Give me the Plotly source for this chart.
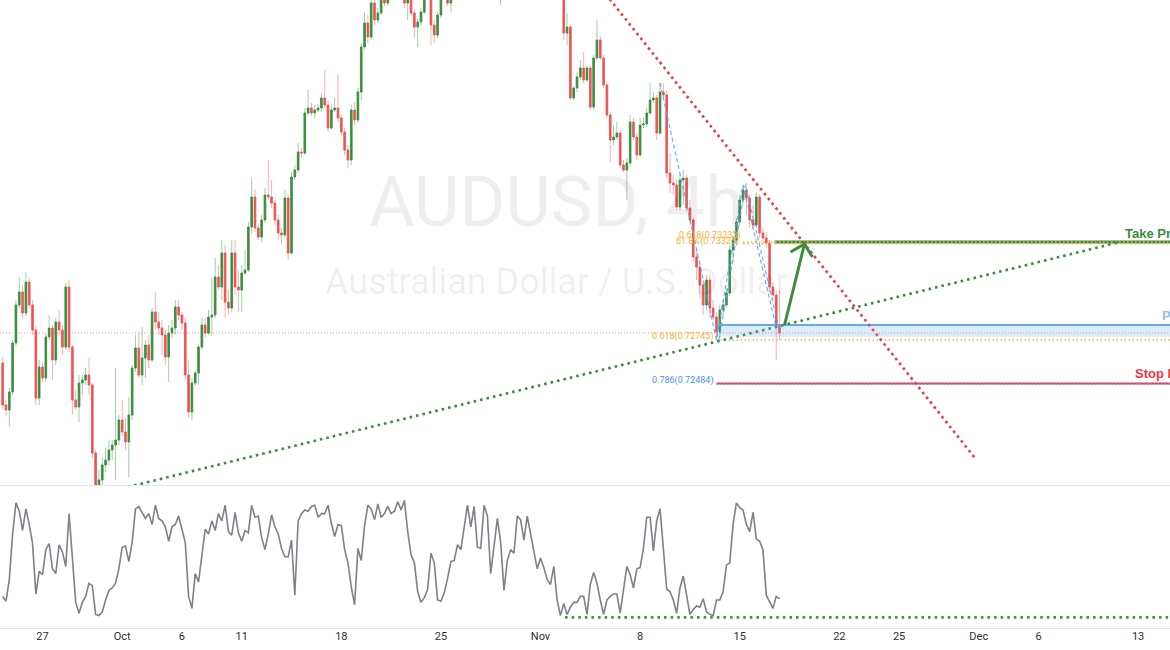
import plotly.graph_objects as go
import pandas as pd

# ---------------- data ----------------
bar_start = "2021-09-23"
n_bars = 235
bar_days = pd.bdate_range(bar_start, periods=40)
bar_time = [d + pd.Timedelta(hours=4 * k) for d in bar_days for k in range(6)][:n_bars]

open_ = [
    0.72607, 0.72355, 0.72325, 0.72433, 0.72727, 0.72955, 0.73033, 0.72907, 0.73093, 0.72955,
    0.72805, 0.72397, 0.72583, 0.72517, 0.72763, 0.72817, 0.72625, 0.72853, 0.72805, 0.72703,
    0.73063, 0.72703, 0.72385, 0.72343, 0.72487, 0.72505, 0.72535, 0.72475, 0.72067, 0.71875,
    0.71905, 0.71995, 0.72025, 0.72085, 0.72115, 0.72145, 0.72265, 0.72193, 0.72133, 0.72295,
    0.72577, 0.72697, 0.72535, 0.72637, 0.72715, 0.72625, 0.72913, 0.72853, 0.72817, 0.72775,
    0.72643, 0.72787, 0.72817, 0.72943, 0.72895, 0.72847, 0.72535, 0.72313, 0.72487, 0.72547,
    0.72703, 0.72835, 0.72787, 0.72883, 0.72895, 0.73123, 0.73063, 0.73267, 0.72973, 0.72937,
    0.73267, 0.73063, 0.73045, 0.73147, 0.73165, 0.73423, 0.73603, 0.73417, 0.73363, 0.73465,
    0.73615, 0.73603, 0.73567, 0.73465, 0.73387, 0.73375, 0.73597, 0.73267, 0.73723, 0.73765,
    0.73873, 0.73867, 0.74107, 0.74137, 0.74107, 0.74125, 0.74137, 0.74197, 0.74155, 0.74017,
    0.74125, 0.74137, 0.74077, 0.73993, 0.73885, 0.73825, 0.74125, 0.74065, 0.74233, 0.74503,
    0.74647, 0.74563, 0.74767, 0.74665, 0.74707, 0.74785, 0.74767, 0.74920, 0.75050, 0.75140,
    0.74980, 0.74845, 0.74767, 0.74815, 0.74707, 0.74623, 0.74653, 0.74713, 0.74815, 0.74803,
    0.74635, 0.74575, 0.74695, 0.74815, 0.74920, 0.74767, 0.74833, 0.74960, 0.75030, 0.74920,
    0.75050, 0.75120, 0.75060, 0.74960, 0.74900, 0.75080, 0.75270, 0.75400, 0.75320, 0.75150,
    0.74970, 0.75030, 0.75120, 0.75180, 0.75050, 0.75090, 0.75150, 0.75070, 0.75120, 0.75180,
    0.75140, 0.75210, 0.75130, 0.75160, 0.75240, 0.75190, 0.75120, 0.75150, 0.75060, 0.75090,
    0.74587, 0.74623, 0.74197, 0.74257, 0.74323, 0.74377, 0.74305, 0.74377, 0.74143, 0.74437,
    0.74545, 0.74437, 0.74275, 0.74095, 0.73945, 0.73963, 0.73987, 0.73795, 0.73765, 0.73807,
    0.74053, 0.73963, 0.73855, 0.74035, 0.74041, 0.74107, 0.74185, 0.74197, 0.73987, 0.74233,
    0.74215, 0.73747, 0.73687, 0.73675, 0.73543, 0.73705, 0.73717, 0.73537, 0.73465, 0.73243,
    0.73183, 0.73075, 0.72955, 0.73105, 0.72937, 0.72883, 0.72793, 0.72925, 0.72955, 0.73027,
    0.73285, 0.73345, 0.73453, 0.73585, 0.73645, 0.73597, 0.73465, 0.73435, 0.73603, 0.73387,
    0.73357, 0.73327, 0.73063, 0.73015, 0.72835,
]
high = [
    0.72643, 0.72385, 0.72457, 0.72745, 0.72985, 0.73123, 0.73075, 0.73153, 0.73117, 0.72985,
    0.72835, 0.72625, 0.72607, 0.72781, 0.72895, 0.72835, 0.72877, 0.72925, 0.72835, 0.73087,
    0.73105, 0.72715, 0.72445, 0.72535, 0.72535, 0.72577, 0.72637, 0.72487, 0.72085, 0.71965,
    0.72037, 0.72097, 0.72145, 0.72145, 0.72577, 0.72295, 0.72385, 0.72277, 0.72403, 0.72595,
    0.72775, 0.72787, 0.72823, 0.72745, 0.72775, 0.72937, 0.73033, 0.72913, 0.72865, 0.72805,
    0.72835, 0.72865, 0.72985, 0.72985, 0.72913, 0.72877, 0.72625, 0.72517, 0.72565, 0.72715,
    0.72877, 0.72877, 0.72925, 0.73117, 0.73237, 0.73195, 0.73345, 0.73315, 0.73045, 0.73345,
    0.73345, 0.73165, 0.73195, 0.73285, 0.73453, 0.73717, 0.73645, 0.73435, 0.73495, 0.73657,
    0.73825, 0.73705, 0.73585, 0.73495, 0.73417, 0.73645, 0.73615, 0.73753, 0.73795, 0.73927,
    0.73897, 0.74137, 0.74245, 0.74167, 0.74155, 0.74161, 0.74227, 0.74365, 0.74185, 0.74155,
    0.74197, 0.74341, 0.74095, 0.74017, 0.73915, 0.74155, 0.74173, 0.74257, 0.74527, 0.74713,
    0.74695, 0.74815, 0.74797, 0.74737, 0.74833, 0.74845, 0.74970, 0.75100, 0.75200, 0.75180,
    0.75020, 0.74875, 0.74833, 0.74833, 0.74725, 0.74677, 0.74737, 0.74857, 0.74875, 0.74845,
    0.74665, 0.74713, 0.74845, 0.74960, 0.74940, 0.74857, 0.75000, 0.75080, 0.75060, 0.75100,
    0.75150, 0.75180, 0.75090, 0.75000, 0.75120, 0.75320, 0.75560, 0.75460, 0.75350, 0.75180,
    0.75080, 0.75170, 0.75260, 0.75210, 0.75120, 0.75200, 0.75180, 0.75160, 0.75240, 0.75210,
    0.75250, 0.75240, 0.75200, 0.75300, 0.75280, 0.75220, 0.75180, 0.75180, 0.75120, 0.75120,
    0.74707, 0.74635, 0.74269, 0.74353, 0.74425, 0.74473, 0.74389, 0.74395, 0.74455, 0.74665,
    0.74569, 0.74455, 0.74293, 0.74113, 0.74035, 0.74053, 0.74005, 0.73825, 0.73837, 0.74095,
    0.74077, 0.73987, 0.74077, 0.74077, 0.74137, 0.74287, 0.74233, 0.74215, 0.74287, 0.74287,
    0.74245, 0.73867, 0.73735, 0.73705, 0.73735, 0.73765, 0.73735, 0.73585, 0.73477, 0.73285,
    0.73213, 0.73105, 0.73135, 0.73135, 0.72985, 0.72913, 0.72955, 0.72985, 0.73057, 0.73315,
    0.73375, 0.73477, 0.73615, 0.73675, 0.73687, 0.73615, 0.73555, 0.73633, 0.73621, 0.73417,
    0.73393, 0.73345, 0.73093, 0.73045, 0.73045,
]
low = [
    0.72325, 0.72289, 0.72223, 0.72415, 0.72709, 0.72937, 0.72877, 0.72889, 0.72937, 0.72775,
    0.72355, 0.72355, 0.72493, 0.72493, 0.72745, 0.72505, 0.72595, 0.72775, 0.72655, 0.72685,
    0.72673, 0.72295, 0.72325, 0.72253, 0.72415, 0.72475, 0.72415, 0.72037, 0.71815, 0.71797,
    0.71857, 0.71953, 0.71995, 0.72025, 0.71905, 0.72115, 0.72169, 0.72085, 0.71923, 0.72265,
    0.72553, 0.72517, 0.72475, 0.72517, 0.72577, 0.72613, 0.72805, 0.72775, 0.72655, 0.72595,
    0.72493, 0.72757, 0.72775, 0.72865, 0.72805, 0.72505, 0.72277, 0.72265, 0.72469, 0.72475,
    0.72685, 0.72763, 0.72775, 0.72769, 0.72877, 0.73045, 0.72985, 0.72877, 0.72895, 0.72913,
    0.73015, 0.72913, 0.72913, 0.73135, 0.73153, 0.73387, 0.73393, 0.73345, 0.73333, 0.73447,
    0.73585, 0.73537, 0.73435, 0.73345, 0.73315, 0.73357, 0.73225, 0.73255, 0.73705, 0.73747,
    0.73837, 0.73855, 0.74095, 0.74089, 0.74077, 0.74113, 0.74113, 0.74137, 0.73993, 0.74005,
    0.74113, 0.74053, 0.73975, 0.73855, 0.73777, 0.73795, 0.74035, 0.74047, 0.74185, 0.74485,
    0.74527, 0.74545, 0.74635, 0.74647, 0.74695, 0.74749, 0.74750, 0.74880, 0.74980, 0.74950,
    0.74810, 0.74737, 0.74665, 0.74689, 0.74557, 0.74503, 0.74629, 0.74701, 0.74785, 0.74515,
    0.74527, 0.74557, 0.74677, 0.74800, 0.74749, 0.74713, 0.74810, 0.74900, 0.74880, 0.74890,
    0.75000, 0.75020, 0.74920, 0.74840, 0.74870, 0.75050, 0.75220, 0.75280, 0.75100, 0.74920,
    0.74755, 0.74990, 0.75080, 0.75000, 0.75000, 0.75050, 0.75020, 0.75030, 0.75090, 0.75080,
    0.75110, 0.75080, 0.75080, 0.75120, 0.75140, 0.75070, 0.75050, 0.74980, 0.74950, 0.74545,
    0.74515, 0.74185, 0.74185, 0.74233, 0.74305, 0.74287, 0.74293, 0.74125, 0.74125, 0.74425,
    0.74425, 0.74257, 0.74077, 0.73813, 0.73915, 0.73945, 0.73777, 0.73753, 0.73585, 0.73789,
    0.73945, 0.73825, 0.73843, 0.74017, 0.74023, 0.74095, 0.74167, 0.73945, 0.73975, 0.74197,
    0.73717, 0.73627, 0.73615, 0.73525, 0.73525, 0.73555, 0.73513, 0.73435, 0.73213, 0.73105,
    0.72997, 0.72895, 0.72925, 0.72877, 0.72865, 0.72745, 0.72757, 0.72895, 0.72937, 0.73009,
    0.73213, 0.73315, 0.73429, 0.73555, 0.73495, 0.73417, 0.73405, 0.73417, 0.73357, 0.73315,
    0.73297, 0.73033, 0.72985, 0.72625, 0.72745,
]
close = [
    0.72355, 0.72325, 0.72433, 0.72727, 0.72955, 0.73033, 0.72907, 0.73093, 0.72955, 0.72805,
    0.72397, 0.72583, 0.72517, 0.72763, 0.72817, 0.72625, 0.72853, 0.72805, 0.72703, 0.73063,
    0.72703, 0.72385, 0.72343, 0.72487, 0.72505, 0.72535, 0.72475, 0.72067, 0.71875, 0.71905,
    0.71995, 0.72025, 0.72085, 0.72115, 0.72145, 0.72265, 0.72193, 0.72133, 0.72295, 0.72577,
    0.72697, 0.72535, 0.72637, 0.72715, 0.72625, 0.72913, 0.72853, 0.72817, 0.72775, 0.72643,
    0.72787, 0.72817, 0.72943, 0.72895, 0.72847, 0.72535, 0.72313, 0.72487, 0.72547, 0.72703,
    0.72835, 0.72787, 0.72883, 0.72895, 0.73123, 0.73063, 0.73267, 0.72973, 0.72937, 0.73267,
    0.73063, 0.73045, 0.73147, 0.73165, 0.73423, 0.73603, 0.73417, 0.73363, 0.73465, 0.73615,
    0.73603, 0.73567, 0.73465, 0.73387, 0.73375, 0.73597, 0.73267, 0.73723, 0.73765, 0.73873,
    0.73867, 0.74107, 0.74137, 0.74107, 0.74125, 0.74137, 0.74197, 0.74155, 0.74017, 0.74125,
    0.74137, 0.74077, 0.73993, 0.73885, 0.73825, 0.74125, 0.74065, 0.74233, 0.74503, 0.74647,
    0.74563, 0.74767, 0.74665, 0.74707, 0.74785, 0.74767, 0.74920, 0.75050, 0.75140, 0.74980,
    0.74845, 0.74767, 0.74815, 0.74707, 0.74623, 0.74653, 0.74713, 0.74815, 0.74803, 0.74635,
    0.74575, 0.74695, 0.74815, 0.74920, 0.74767, 0.74833, 0.74960, 0.75030, 0.74920, 0.75050,
    0.75120, 0.75060, 0.74960, 0.74900, 0.75080, 0.75270, 0.75400, 0.75320, 0.75150, 0.74970,
    0.75030, 0.75120, 0.75180, 0.75050, 0.75090, 0.75150, 0.75070, 0.75120, 0.75180, 0.75140,
    0.75210, 0.75130, 0.75160, 0.75240, 0.75190, 0.75120, 0.75150, 0.75060, 0.75090, 0.74587,
    0.74623, 0.74197, 0.74257, 0.74323, 0.74377, 0.74305, 0.74377, 0.74143, 0.74437, 0.74545,
    0.74437, 0.74275, 0.74095, 0.73945, 0.73963, 0.73987, 0.73795, 0.73765, 0.73807, 0.74053,
    0.73963, 0.73855, 0.74035, 0.74041, 0.74107, 0.74185, 0.74197, 0.73987, 0.74233, 0.74215,
    0.73747, 0.73687, 0.73675, 0.73543, 0.73705, 0.73717, 0.73537, 0.73465, 0.73243, 0.73183,
    0.73075, 0.72955, 0.73105, 0.72937, 0.72883, 0.72793, 0.72925, 0.72955, 0.73027, 0.73285,
    0.73345, 0.73453, 0.73585, 0.73645, 0.73597, 0.73465, 0.73435, 0.73603, 0.73387, 0.73357,
    0.73327, 0.73063, 0.73015, 0.72835, 0.72787,
]
stoch_k = [
    18, 14, 32, 70, 96, 89, 73, 91, 78, 62,
    20, 39, 36, 57, 62, 41, 37, 61, 55, 43,
    87, 48, 13, 4, 13, 18, 29, 27, 3, 2,
    5, 15, 23, 25, 29, 41, 59, 60, 47, 63,
    91, 93, 88, 83, 87, 78, 94, 83, 81, 76,
    64, 76, 78, 85, 74, 63, 18, 8, 37, 30,
    52, 74, 70, 81, 73, 87, 81, 94, 72, 69,
    88, 71, 64, 73, 71, 94, 84, 85, 67, 57,
    70, 86, 76, 70, 58, 51, 51, 65, 19, 81,
    87, 90, 89, 93, 94, 84, 87, 87, 94, 79,
    68, 78, 77, 57, 46, 26, 11, 58, 48, 77,
    94, 91, 82, 95, 84, 87, 93, 87, 89, 97,
    90, 98, 72, 53, 46, 22, 13, 17, 24, 54,
    46, 15, 14, 21, 33, 47, 48, 61, 57, 76,
    94, 76, 93, 59, 58, 94, 85, 37, 58, 83,
    63, 23, 48, 57, 54, 85, 82, 65, 85, 70,
    55, 41, 50, 42, 32, 28, 43,
    15, 2, 12, 3, 9, 13, 13, 18, 18, 3,
    28, 38, 29, 15, 3, 15, 18, 20, 20, 4,
    22, 43, 36, 25, 41, 42, 58, 84, 84, 56,
    81, 91, 58, 24, 22, 15, 4, 25, 35, 18,
    3, 7, 10, 9, 16, 5, 3, 2, 15, 15,
    22, 44, 46, 78, 96, 92, 90, 78, 72, 88,
    66, 64, 57, 19, 14, 8, 18, 16,
]

tick_dates = ["2021-09-27", "2021-10-01", "2021-10-06", "2021-10-11", "2021-10-18",
              "2021-10-25", "2021-11-01", "2021-11-08", "2021-11-15", "2021-11-22",
              "2021-11-25", "2021-12-01", "2021-12-06", "2021-12-13"]
tick_text = ["27", "Oct", "6", "11", "18", "25", "Nov", "8", "15", "22", "25", "Dec", "6", "13"]

# levels (prices)
take_profit = 0.73333
fib_618_top = 0.73333
fib_618pct_top = 0.73323
pivot_top = 0.72835
pivot_bottom = 0.72765
fib_618_low = 0.72745
stop_loss = 0.72484
last_price = 0.72787
stoch_support = 0.5

# drawing anchors (date, price)
down_trend_x = ["2021-11-03 12:00", "2021-11-30 19:26"]
down_trend_y = [0.74936, 0.72037]
up_trend_x = ["2021-09-29 16:00", "2021-12-10 02:00"]
up_trend_y = [0.71815, 0.73333]
swing_x = ["2021-11-09 00:00", "2021-11-11 20:00", "2021-11-15 04:00", "2021-11-16 20:00"]
swing_y = [0.74287, 0.72745, 0.73675, 0.72820]
swing2_x = ["2021-11-09 03:00", "2021-11-11 23:00", "2021-11-15 07:00", "2021-11-16 23:00"]
arrow_x = ["2021-11-17 06:00", "2021-11-18 06:00"]
arrow_y = [0.72835, 0.73321]
arrow_wing_x = ["2021-11-17 13:12", "2021-11-18 15:36"]
arrow_wing_y = [0.73273, 0.73243]

level_start_low = "2021-11-11 20:00"
level_start_top = "2021-11-15 04:00"
tp_start = "2021-11-16 18:00"
x_right = "2021-12-20 00:00"
x_range = ["2021-09-22 20:47", "2021-12-14 14:24"]
price_range = [0.71875, 0.74785]
stoch_range = [-8.33, 109.2]

# ---------------- figure ----------------
fig = go.Figure()

# watermark
fig.add_trace(go.Scatter(
    x=["2021-11-01 19:12", "2021-11-01 19:12"], y=[0.73537, 0.73078],
    mode="text", text=["AUDUSD, 4h", "Australian Dollar / U.S. Dollar"],
    textposition="middle center",
    textfont=dict(family="Roboto", size=[70, 36], color="rgba(0,0,0,0.065)"),
    hoverinfo="skip", showlegend=False))

# last price line
fig.add_trace(go.Scatter(x=[x_range[0], x_right], y=[last_price, last_price], mode="lines",
                         line=dict(color="rgba(242,54,69,0.55)", width=1, dash="1px,2px"),
                         hoverinfo="skip", showlegend=False))

UP, DN = "#388E3C", "#EF5350"
# wicks (light)
fig.add_trace(go.Candlestick(
    x=bar_time, open=open_, high=high, low=low, close=close,
    increasing=dict(line=dict(color="rgba(56,142,60,0.45)", width=1), fillcolor="rgba(56,142,60,0.45)"),
    decreasing=dict(line=dict(color="rgba(239,83,80,0.45)", width=1), fillcolor="rgba(239,83,80,0.45)"),
    whiskerwidth=0, hoverinfo="skip", showlegend=False))
# bodies
body_hi = [max(o, c) for o, c in zip(open_, close)]
body_lo = [min(o, c) for o, c in zip(open_, close)]
fig.add_trace(go.Candlestick(
    x=bar_time, open=open_, high=body_hi, low=body_lo, close=close,
    increasing=dict(line=dict(color=UP, width=0.6), fillcolor=UP),
    decreasing=dict(line=dict(color=DN, width=0.6), fillcolor=DN),
    whiskerwidth=0, hoverinfo="skip", showlegend=False))


def line(x, y, color, width, dash="solid", xaxis="x", yaxis="y"):
    fig.add_trace(go.Scatter(x=x, y=y, mode="lines", xaxis=xaxis, yaxis=yaxis,
                             line=dict(color=color, width=width, dash=dash),
                             hoverinfo="skip", showlegend=False))


# pivot zone
fig.add_shape(type="rect", xref="x", yref="y", x0=level_start_low, x1=x_right,
              y0=pivot_bottom, y1=pivot_top, fillcolor="rgba(100,170,240,0.22)",
              line=dict(width=0), layer="above")
line([level_start_low, x_right], [pivot_top, pivot_top], "#6AA9EE", 2.2)

# fib lines
YEL = "#F7B334"
line([level_start_low, x_right], [fib_618_low, fib_618_low], YEL, 1.5, "1.5px,2.5px")
line([tp_start, x_right], [take_profit, take_profit], "#3C8C40", 3)
line([level_start_top, x_right], [fib_618_top, fib_618_top], YEL, 1.5, "1.5px,2.5px")
line([level_start_top, x_right], [fib_618pct_top, fib_618pct_top], YEL, 1.5, "1.5px,3px")
line([level_start_low, x_right], [stop_loss, stop_loss], "#F23645", 2.2)
line([level_start_low, x_right], [stop_loss - 0.00003, stop_loss - 0.00003], "#5B9CF6", 1.3, "1.5px,2px")

# trend lines
line(down_trend_x, down_trend_y, "#F23645", 2.6, "2.6px,3.6px")
line(up_trend_x, up_trend_y, "#3C8C40", 2.6, "2.6px,4px")

# swing dashed lines
line(swing_x, swing_y, "rgba(91,156,246,0.85)", 1.2, "4px,3px")
line(swing2_x[1:], swing_y[1:], "rgba(91,156,246,0.85)", 1.2, "4px,3px")

# arrow
fig.add_trace(go.Scatter(
    x=[arrow_x[0], arrow_x[1], None, arrow_wing_x[0], arrow_x[1], arrow_wing_x[1]],
    y=[arrow_y[0], arrow_y[1], None, arrow_wing_y[0], arrow_y[1], arrow_wing_y[1]],
    mode="lines", line=dict(color="#3C8C40", width=3), hoverinfo="skip", showlegend=False))

# stochastic
fig.add_trace(go.Scatter(x=bar_time, y=stoch_k, mode="lines", xaxis="x2", yaxis="y2",
                         line=dict(color="#7E808A", width=1.6), hoverinfo="skip", showlegend=False))
line(["2021-11-02 05:31", x_right], [stoch_support, stoch_support], "#3C9A40", 2.6,
     "2.6px,4px", xaxis="x2", yaxis="y2")


# annotations
def label(x, y, text, color, size, anchor="right", bold=False, yshift=0, family="Roboto"):
    fig.add_annotation(x=x, y=y, xref="x", yref="y", text=(f"<b>{text}</b>" if bold else text),
                       showarrow=False, xanchor=anchor, yanchor="middle", yshift=yshift,
                       font=dict(color=color, size=size, family=family))


label("2021-11-11 19:00", fib_618_low, "0.618(0.72745)", YEL, 9, yshift=4)
label("2021-11-11 19:00", stop_loss, "0.786(0.72484)", "#4F8FE6", 9, yshift=3)
label("2021-11-15 01:00", fib_618pct_top, "61.8%(0.73323)", YEL, 9, yshift=2)
label("2021-11-15 04:00", fib_618_top, "0.618(0.73333)", YEL, 9, yshift=7)
label("2021-12-10 05:46", 0.73383, "Take Profit", "#3C8C40", 13, anchor="left", bold=True,
      family="Liberation Sans")
label("2021-12-14 02:24", 0.72895, "Pivot", "#90BFF5", 13, anchor="left", bold=True,
      family="Liberation Sans")
label("2021-12-10 17:46", 0.72547, "Stop Loss", "#F23645", 13, anchor="left", bold=True,
      family="Liberation Sans")

# panel separators
for yp in (1 - 485.5 / 650, 1 - 628.5 / 650):
    fig.add_shape(type="line", xref="paper", yref="paper", x0=0, x1=1, y0=yp, y1=yp,
                  line=dict(color="#E0E3EB", width=1))

fig.update_layout(
    width=1170, height=650, margin=dict(l=0, r=0, t=0, b=0),
    paper_bgcolor="white", plot_bgcolor="white", showlegend=False, hovermode=False,
    xaxis=dict(domain=[0, 1], anchor="y", range=x_range, rangebreaks=[dict(bounds=["sat", "mon"])],
               showgrid=False, zeroline=False, showticklabels=False, rangeslider=dict(visible=False),
               fixedrange=True),
    yaxis=dict(domain=[1 - 485 / 650, 1], range=price_range, showgrid=False, zeroline=False,
               showticklabels=False, fixedrange=True),
    xaxis2=dict(domain=[0, 1], anchor="y2", matches="x", range=x_range,
                rangebreaks=[dict(bounds=["sat", "mon"])], showgrid=False, zeroline=False,
                tickmode="array", tickvals=tick_dates, ticktext=tick_text, ticks="",
                tickfont=dict(family="Roboto", size=11, color="#2A2E39"), automargin=False,
                fixedrange=True),
    yaxis2=dict(domain=[1 - 628 / 650, 1 - 487 / 650], range=stoch_range, showgrid=False,
                zeroline=False, showticklabels=False, fixedrange=True),
)

fig.write_html("out.html", config={"displayModeBar": False},
               post_script="document.body.style.margin='0';document.body.style.overflow='hidden';")
